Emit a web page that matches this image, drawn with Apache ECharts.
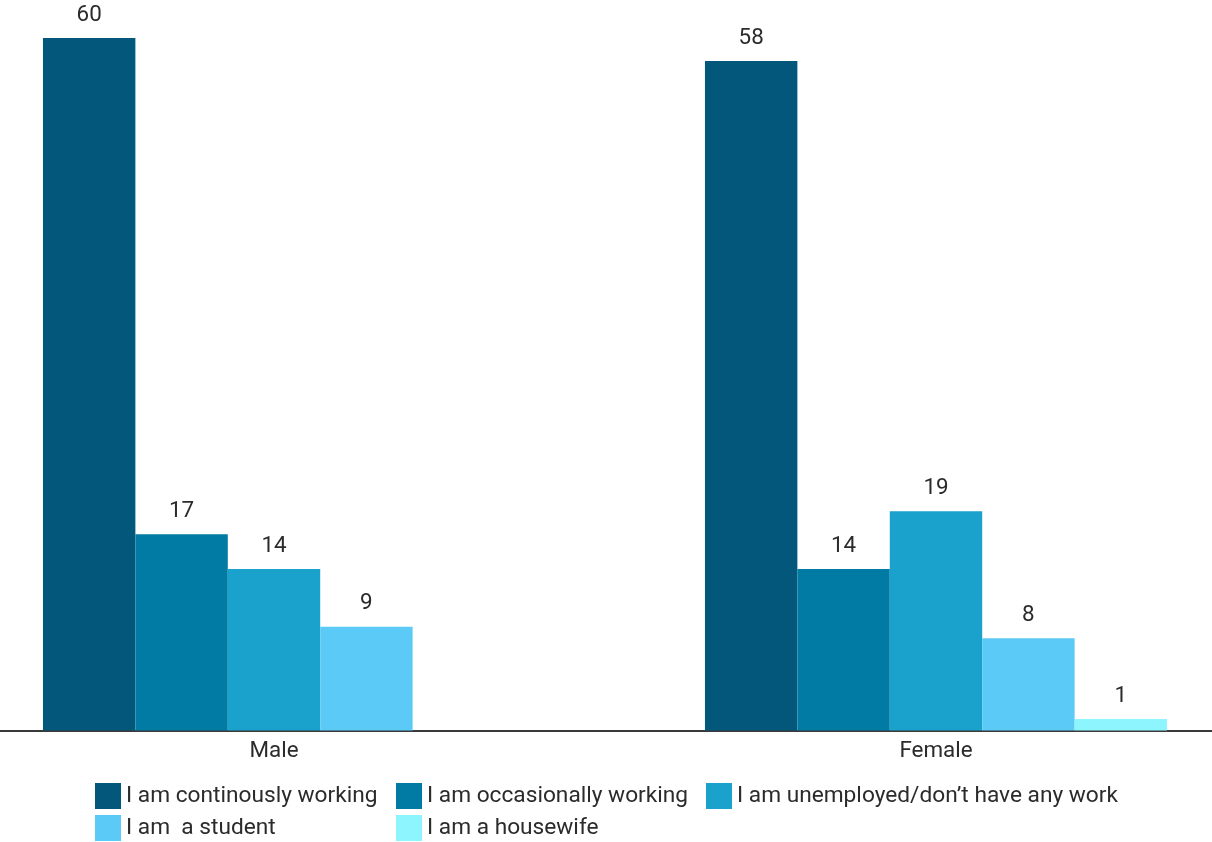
<!DOCTYPE html>
<html>
<head>
<meta charset="utf-8">
<script src="https://cdn.jsdelivr.net/npm/echarts@6/dist/echarts.min.js"></script>
<style>
html,body{margin:0;padding:0;background:#fff;}
#chart{width:1212px;height:842px;}
</style>
</head>
<body>
<div id="chart"></div>
<script>
const categories = ['Male', 'Female'];
const seriesNames = [
  'I am continously working',
  'I am occasionally working',
  'I am unemployed/don\u2019t have any work',
  'I am  a student',
  'I am a housewife'
];
const continouslyWorking = [60, 58];
const occasionallyWorking = [17, 14];
const unemployed = [14, 19];
const student = [9, 8];
const housewife = [null, 1];
const colors = ['#03577b', '#027ba4', '#1aa2cd', '#5bcaf7', '#8cf5fe'];

const values = [continouslyWorking, occasionallyWorking, unemployed, student, housewife];
const fontFamily = 'Roboto, sans-serif';
const txt = '#2b2b2b';

const chart = echarts.init(document.getElementById('chart'), null, {renderer: 'canvas'});

const legendBase = {
  orient: 'vertical',
  top: 783,
  itemWidth: 26,
  itemHeight: 26,
  itemGap: 6,
  icon: 'rect',
  padding: 0,
  selectedMode: false,
  textStyle: {fontFamily: fontFamily, fontSize: 22.7, color: txt}
};

chart.setOption({
  animation: false,
  color: colors,
  grid: {left: -57, right: -55, top: 38, bottom: 111.5, containLabel: false, outerBoundsMode: 'none'},
  xAxis: {
    type: 'category',
    data: categories,
    axisLine: {show: true, lineStyle: {color: '#3a3a3a', width: 2}},
    axisTick: {show: false},
    axisLabel: {fontFamily: fontFamily, fontSize: 22.4, color: txt, margin: 10}
  },
  yAxis: {
    type: 'value',
    min: 0,
    max: 60,
    show: false,
    splitLine: {show: false}
  },
  legend: [
    Object.assign({}, legendBase, {left: 95, data: [seriesNames[0], seriesNames[3]]}),
    Object.assign({}, legendBase, {left: 396, data: [seriesNames[1], seriesNames[4]]}),
    Object.assign({}, legendBase, {left: 706, data: [seriesNames[2]]})
  ],
  series: seriesNames.map((name, i) => ({
    name: name,
    type: 'bar',
    data: values[i],
    barGap: '0%',
    barCategoryGap: '30.2%',
    itemStyle: {color: colors[i]},
    label: {
      show: true,
      position: 'top',
      distance: 12,
      fontFamily: fontFamily,
      fontSize: 22.4,
      color: txt
    }
  }))
});
</script>
</body>
</html>
